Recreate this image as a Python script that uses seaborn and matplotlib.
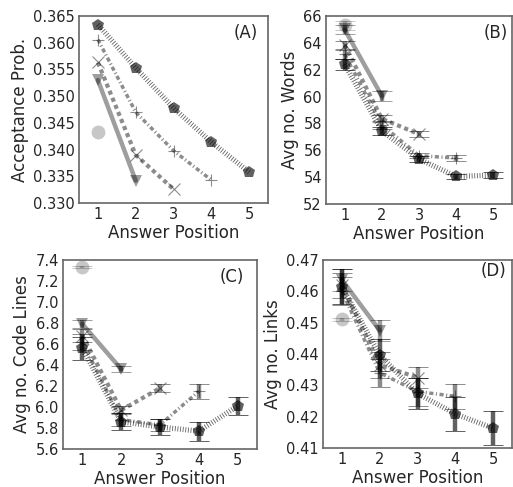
import numpy as np
import pandas as pd
import matplotlib
matplotlib.use("Agg")
import matplotlib.pyplot as plt
from matplotlib.ticker import FormatStrFormatter
import seaborn as sns

# ---------------- data ----------------
positions = [1, 2, 3, 4, 5]

acc_vals = [[0.3433],
            [0.3530, 0.3342],
            [0.3563, 0.3390, 0.3326],
            [0.3606, 0.3470, 0.3398, 0.3343],
            [0.3634, 0.3553, 0.3478, 0.3414, 0.3358]]

words_vals = [[65.3],
              [65.0, 60.05],
              [63.85, 58.35, 57.2],
              [63.15, 57.9, 55.6, 55.42],
              [62.4, 57.45, 55.35, 54.05, 54.15]]
words_err = [[0.35],
             [0.35, 0.35],
             [0.3, 0.25, 0.2],
             [0.35, 0.3, 0.2, 0.25],
             [0.4, 0.3, 0.25, 0.2, 0.2]]

code_vals = [[7.33],
             [6.79, 6.36],
             [6.68, 5.97, 6.18],
             [6.62, 5.88, 5.83, 6.15],
             [6.56, 5.86, 5.81, 5.77, 6.01]]
code_err = [[0.01],
            [0.04, 0.03],
            [0.06, 0.04, 0.04],
            [0.08, 0.06, 0.06, 0.07],
            [0.11, 0.08, 0.08, 0.09, 0.09]]

links_vals = [[0.4511],
              [0.4637, 0.4475],
              [0.4620, 0.4365, 0.4325],
              [0.4600, 0.4340, 0.4280, 0.4265],
              [0.4615, 0.4397, 0.4274, 0.4209, 0.4163]]
links_err = [[0.0005],
             [0.0035, 0.0035],
             [0.004, 0.004, 0.0035],
             [0.0045, 0.0045, 0.0045, 0.004],
             [0.0055, 0.005, 0.005, 0.0055, 0.0055]]

panel_labels = ["(A)", "(B)", "(C)", "(D)"]
y_labels = ["Acceptance Prob.", "Avg no. Words", "Avg no. Code Lines", "Avg no. Links"]
x_label = "Answer Position"

# ---------------- style ----------------
sns.set_style("white")
plt.rcParams["font.family"] = ["DejaVu Sans"]
plt.rcParams["lines.scale_dashes"] = False

series_style = [
    dict(alpha=0.22, lw=3.0, ls="-", marker="o", ms=10, mew=0.0),
    dict(alpha=0.38, lw=3.2, ls="-", marker="v", ms=9, mew=0.0),
    dict(alpha=0.45, lw=3.0, ls=(0, (3.0, 2.5)), marker="x", ms=9, mew=0.8),
    dict(alpha=0.45, lw=2.5, ls=(0, (3.0, 1.8, 0.8, 1.8)), marker="+", ms=9, mew=0.8),
    dict(alpha=0.62, lw=3.8, ls=(0, (0.6, 1.3)), marker="p", ms=9, mew=0.0),
]

W, H = 513, 487
fig = plt.figure(figsize=(W / 100, H / 100), dpi=100)


def add_ax(l, r, t, b):
    return fig.add_axes([l / W, 1 - b / H, (r - l) / W, (b - t) / H])


axes = [add_ax(79, 268, 16, 203), add_ax(326, 512, 16, 204),
        add_ax(63, 257, 260, 449), add_ax(323, 512, 260, 448)]

panels = [(acc_vals, None), (words_vals, words_err),
          (code_vals, code_err), (links_vals, links_err)]
ylims = [(0.330, 0.365), (52, 66), (5.6, 7.4), (0.41, 0.47)]
yticks = [np.arange(0.330, 0.3651, 0.005), np.arange(52, 66.1, 2),
          np.arange(5.6, 7.41, 0.2), np.arange(0.41, 0.4701, 0.01)]
yfmt = ["%.3f", "%d", "%.1f", "%.2f"]
label_pos = [(0.88, 0.91), (0.91, 0.91), (0.87, 0.91), (0.90, 0.94)]

for i, ax in enumerate(axes):
    vals, errs = panels[i]
    for k, v in enumerate(vals):
        st = series_style[k]
        x = positions[:len(v)]
        df = pd.DataFrame({"pos": x, "val": v})
        sns.lineplot(data=df, x="pos", y="val", ax=ax, color="k",
                     alpha=st["alpha"], linewidth=st["lw"], linestyle=st["ls"],
                     marker=st["marker"], markersize=st["ms"],
                     markeredgecolor="k", markeredgewidth=st["mew"],
                     estimator=None, sort=False)
        if errs is not None:
            ax.errorbar(x, v, yerr=errs[k], fmt="none", ecolor="k",
                        alpha=st["alpha"], elinewidth=3.2, capsize=7,
                        capthick=0.7)
    ax.set_xlim(0.5, 5.5)
    ax.set_ylim(*ylims[i])
    ax.set_xticks(positions)
    ax.set_yticks(yticks[i])
    ax.yaxis.set_major_formatter(FormatStrFormatter(yfmt[i]))
    ax.tick_params(labelsize=10.5, length=0, pad=3)
    ax.set_xlabel(x_label, fontsize=12, labelpad=1)
    ax.set_ylabel(y_labels[i], fontsize=12, labelpad=3)
    for sp in ax.spines.values():
        sp.set_color("#666666")
        sp.set_linewidth(1.2)
    ax.text(label_pos[i][0], label_pos[i][1], panel_labels[i],
            transform=ax.transAxes, ha="center", va="center", fontsize=12)

fig.savefig("out.png", dpi=100)
